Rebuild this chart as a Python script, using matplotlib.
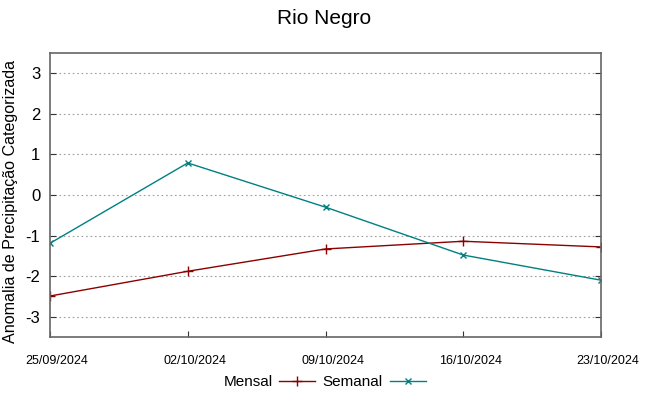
import matplotlib
matplotlib.use("Agg")
import matplotlib.pyplot as plt
import matplotlib.transforms as mtransforms
import datetime as dt

dates = ["25/09/2024", "02/10/2024", "09/10/2024", "16/10/2024", "23/10/2024"]
mensal = [-2.49, -1.88, -1.33, -1.14, -1.28]
semanal = [-1.19, 0.79, -0.30, -1.48, -2.10]
yticks = [-3, -2, -1, 0, 1, 2, 3]

plt.rcParams['font.family'] = ['Liberation Sans', 'DejaVu Sans']
x = [dt.datetime.strptime(d, "%d/%m/%Y") for d in dates]

fig = plt.figure(figsize=(6.49, 3.96), dpi=100)
ax = fig.add_axes([50/649, 1-337/396, 551/649, 284/396])

ax.plot(x, mensal, color="#8b0000", lw=1, marker="+", ms=7, mew=1, label="Mensal")
ax.plot(x, semanal, color="#008080", lw=1, marker="x", ms=5, mew=1, label="Semanal")

ax.set_xlim(x[0], x[-1])
ax.set_ylim(-3.5, 3.5)
ax.set_yticks(yticks)
ax.set_yticklabels([str(v) for v in yticks], fontsize=12)
ax.set_xticks(x)
ax.set_xticklabels(dates, fontsize=9)
ax.grid(axis="y", color="#a0a0a0", ls=(0, (1.5, 2.5)), lw=0.8)
ax.tick_params(direction="in", top=False, right=True, length=4, color="#333333", pad=7)
ax.tick_params(axis="x", pad=13)
offset = mtransforms.ScaledTranslation(7/100, 0, fig.dpi_scale_trans)
for lbl in ax.get_xticklabels():
    lbl.set_transform(lbl.get_transform() + offset)
for s in ax.spines.values():
    s.set_color("#666666")
    s.set_linewidth(1.2)

ax.set_ylabel("Anomalia de Precipitação Categorizada", fontsize=11.6)
ax.yaxis.set_label_coords(-32/551, 0.478)
fig.text(0.5, 1-19/396, "Rio Negro", ha="center", va="center", fontsize=15)

leg = fig.legend(loc="center", bbox_to_anchor=(0.5, 1-382/396), ncol=2, frameon=False,
                 markerfirst=False, fontsize=11, handlelength=2.35, columnspacing=0.5,
                 handletextpad=0.45)

fig.savefig("out.png", dpi=100)
